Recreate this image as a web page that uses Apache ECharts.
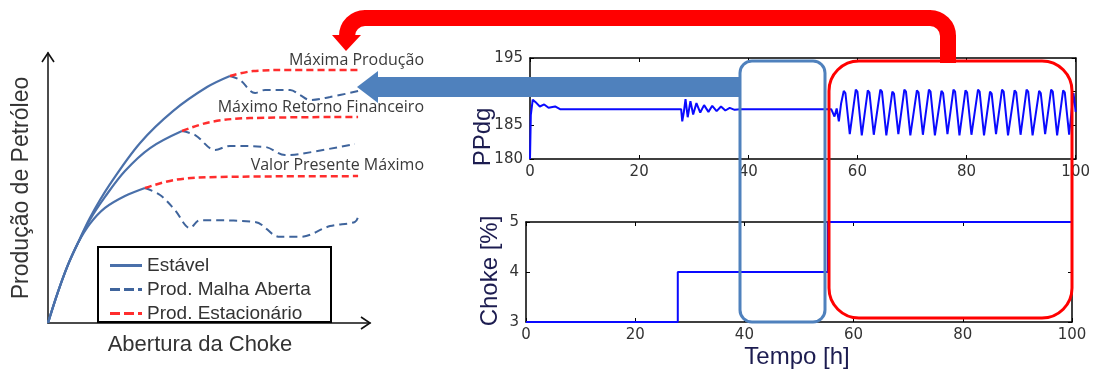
<!DOCTYPE html>
<html>
<head>
<meta charset="utf-8">
<script src="https://cdn.jsdelivr.net/npm/echarts@6/dist/echarts.min.js"></script>
<style>
  html, body { margin: 0; padding: 0; background: #fff; }
  #chart { width: 1093px; height: 372px; }
</style>
</head>
<body>
<div id="chart"></div>
<script>
// ---- Left schematic: oil production vs. choke opening (arbitrary units 0..100) ----
const stableHigh = [[0,0],[3.1,11.5],[6.2,21.5],[9.3,29.6],[13.0,38.9],[19.3,51.5],[28.6,66.7],[38.8,78.5],[49.4,87.4],[56.5,91.5]];
const stableMid  = [[0,0],[3.1,11.5],[6.2,21.5],[9.3,29.6],[13.0,38.2],[17.7,46.7],[23.9,56.3],[31.7,64.8],[41.6,71.1]];
const stableLow  = [[0,0],[3.1,11.5],[6.2,21.5],[9.3,29.6],[13.0,36.7],[17.7,42.6],[23.9,47.0],[30.1,50.0]];

const openLoopHigh = [[56.5,91.5],[59.6,90.0],[64.3,85.2],[67.4,86.3],[75.2,86.3],[78.3,84.4],[81.4,82.6],[87.6,83.7],[96.3,85.9]];
const openLoopMid  = [[41.6,71.1],[45.7,69.6],[51.9,64.1],[56.5,65.6],[67.4,65.2],[73.6,62.2],[78.3,62.6],[95.3,66.3]];
const openLoopLow  = [[30.1,50.0],[34.8,47.4],[39.4,41.9],[44.1,35.2],[47.2,38.1],[64.3,37.4],[72.0,31.9],[78.3,31.9],[87.6,35.9],[95.3,37.4],[96.3,39.3]];

const steadyHigh = [[56.5,91.5],[63.7,93.3],[75.2,93.7],[96.3,93.7]];
const steadyMid  = [[41.6,71.1],[50.3,74.4],[62.7,75.9],[96.3,76.3]];
const steadyLow  = [[30.1,50.0],[39.4,53.0],[53.4,54.1],[96.3,54.4]];

const legendNames = ['Estável', 'Prod. Malha Aberta', 'Prod. Estacionário'];
const operatingPoints = ['Máxima Produção', 'Máximo Retorno Financeiro', 'Valor Presente Máximo'];

// ---- Right plots: simulated time series, Tempo [h] ----
const timeTicks = [0, 20, 40, 60, 80, 100];
const ppdgTicks = [180, 185, 190, 195];
const chokeTicks = [3, 4, 5];

// PPdg: startup transient, step response at ~28 h, then slugging after ~55 h
const ppdgStartup = [[0,180],[0.15,186.5],[0.5,188.8],[1.2,188.3],[1.8,187.8],[2.6,188.1],[3.4,187.6],[4.6,187.8],[5.5,187.4],[27.7,187.4]];
const ppdgStep = [[27.9,185.6],[28.2,187.0],[28.5,188.9],[28.9,186.2],[29.4,188.6],[29.9,186.6],[30.5,188.3],[31.2,186.9],[31.9,188.0],[32.7,187.0],[33.4,187.9],[34.2,187.1],[35.0,187.8],[35.8,187.2],[36.6,187.6],[37.5,187.3],[38.5,187.4],[55.2,187.4]];
const ppdgSlugging = [
  [55.5,187.2],[55.8,186.3],[56.2,187.5],[56.6,185.6],[57.0,188.2],[57.5,190.1],[57.8,189.8],[58.6,183.7],[58.9,183.9],
  [59.7,190.3],[60.0,190.0],[60.8,183.5],[61.1,183.7],
  [61.9,190.2],[62.2,189.9],[63.0,183.6],[63.3,183.8],
  [64.2,190.3],[64.5,190.0],[65.3,183.5],[65.6,183.7],
  [66.4,190.0],[66.7,189.7],[67.5,183.7],[67.8,183.9],
  [68.6,190.3],[68.9,190.0],[69.7,183.5],[70.0,183.7],
  [70.9,190.2],[71.2,189.9],[72.0,183.6],[72.3,183.8],
  [73.1,190.3],[73.4,190.0],[74.2,183.5],[74.5,183.7],
  [75.4,190.1],[75.7,189.8],[76.5,183.7],[76.8,183.9],
  [77.6,190.3],[77.9,190.0],[78.7,183.5],[79.0,183.7],
  [79.8,190.2],[80.1,189.9],[80.9,183.6],[81.2,183.8],
  [82.1,190.3],[82.4,190.0],[83.2,183.5],[83.5,183.7],
  [84.3,190.0],[84.6,189.7],[85.4,183.7],[85.7,183.9],
  [86.5,190.3],[86.8,190.0],[87.6,183.5],[87.9,183.7],
  [88.8,190.2],[89.1,189.9],[89.9,183.6],[90.2,183.8],
  [91.0,190.3],[91.3,190.0],[92.1,183.5],[92.4,183.7],
  [93.3,190.1],[93.6,189.8],[94.4,183.7],[94.7,183.9],
  [95.5,190.3],[95.8,190.0],[96.6,183.5],[96.9,183.7],
  [97.7,190.2],[98.0,189.9],[98.8,183.6],[99.1,183.8],
  [99.6,189.8],[100,187.0]
];
const ppdgSeries = ppdgStartup.concat(ppdgStep, ppdgSlugging);

// Choke opening [%]: steps at ~28 h and ~55 h
const chokeSteps = [[0,3],[27.8,3],[27.8,4],[55.3,4],[55.3,5],[100,5]];

const BLUE_SOLID = '#4a70aa';
const BLUE_DASH = '#3f649c';
const RED_DASH = '#ff2d2d';
const ARROW_BLUE = '#4f81bd';
const SANS = 'Liberation Sans, Arial, sans-serif';
const TICK_FONT = 'DejaVu Sans, sans-serif';

// legend swatches: plain bar for the solid line, broken bar for the dashed ones
const SOLID_ICON = 'path://M0,0H32V3H0Z';
const DASH_ICON = 'path://M0,0H10V3H0Z M14,0H24V3H14Z M28,0H32V3H28Z';

function schematicLine(name, data, color, type, width, z) {
  return {
    name: name, type: 'line', xAxisIndex: 0, yAxisIndex: 0,
    data: data, smooth: 0.35, showSymbol: false, symbol: 'none', silent: true,
    lineStyle: { color: color, width: width, type: type },
    itemStyle: { color: color }, z: z
  };
}

const plotTickLabel = { fontFamily: TICK_FONT, fontSize: 15, color: '#333' };

function timeAxis(gridIndex) {
  return [
    { gridIndex: gridIndex, type: 'value', min: 0, max: 100, interval: 20,
      axisLine: { show: true, onZero: false, lineStyle: { color: '#000', width: 1.5 } },
      axisTick: { show: true, inside: true, length: 4, lineStyle: { color: '#000' } },
      axisLabel: Object.assign({ margin: 6, formatter: v => timeTicks.includes(v) ? String(v) : '' }, plotTickLabel),
      splitLine: { show: false } },
    { gridIndex: gridIndex, type: 'value', position: 'top', min: 0, max: 100, interval: 20,
      axisLine: { show: true, onZero: false, lineStyle: { color: '#000', width: 1.5 } },
      axisTick: { show: true, inside: true, length: 4, lineStyle: { color: '#000' } },
      axisLabel: { show: false }, splitLine: { show: false } }
  ];
}

function valueAxis(gridIndex, min, max, interval, ticks) {
  return [
    { gridIndex: gridIndex, type: 'value', min: min, max: max, interval: interval,
      axisLine: { show: true, onZero: false, lineStyle: { color: '#000', width: 1.5 } },
      axisTick: { show: true, inside: true, length: 4, lineStyle: { color: '#000' } },
      axisLabel: Object.assign({ margin: 7, formatter: v => ticks.includes(v) ? String(v) : '' }, plotTickLabel),
      splitLine: { show: false } },
    { gridIndex: gridIndex, type: 'value', position: 'right', min: min, max: max, interval: interval,
      axisLine: { show: true, onZero: false, lineStyle: { color: '#000', width: 1.5 } },
      axisTick: { show: true, inside: true, length: 4, lineStyle: { color: '#000' } },
      axisLabel: { show: false }, splitLine: { show: false } }
  ];
}

const RED_ARROW = { stroke: '#ff0000', lineWidth: 16, fill: null };

const chart = echarts.init(document.getElementById('chart'), null, { renderer: 'canvas' });

const option = {
  animation: false,
  backgroundColor: '#fff',
  grid: [
    { left: 48, top: 53, width: 322, height: 270 },
    { left: 530, top: 58, width: 549, height: 101 },
    { left: 526, top: 222, width: 546, height: 100 }
  ],
  xAxis: [
    { gridIndex: 0, type: 'value', min: 0, max: 100,
      axisLine: { show: true, onZero: false, lineStyle: { color: '#111', width: 1.5 } },
      axisTick: { show: false }, axisLabel: { show: false }, splitLine: { show: false } }
  ].concat(timeAxis(1), timeAxis(2)),
  yAxis: [
    { gridIndex: 0, type: 'value', min: 0, max: 100,
      axisLine: { show: true, onZero: false, lineStyle: { color: '#111', width: 1.5 } },
      axisTick: { show: false }, axisLabel: { show: false }, splitLine: { show: false } }
  ].concat(valueAxis(1, 180, 195, 5, ppdgTicks), valueAxis(2, 3, 5, 1, chokeTicks)),
  legend: {
    data: [
      { name: legendNames[0], icon: SOLID_ICON },
      { name: legendNames[1], icon: DASH_ICON },
      { name: legendNames[2], icon: DASH_ICON }
    ],
    orient: 'vertical', left: 110, top: 256,
    itemWidth: 32, itemHeight: 3, itemGap: 5, padding: 0, selectedMode: false,
    textStyle: { fontFamily: SANS, fontSize: 19, lineHeight: 18, color: '#333' }
  },
  series: [
    schematicLine('Estável', stableHigh, BLUE_SOLID, 'solid', 2.2, 3),
    schematicLine('Estável', stableMid, BLUE_SOLID, 'solid', 2.2, 3),
    schematicLine('Estável', stableLow, BLUE_SOLID, 'solid', 2.2, 3),
    schematicLine('Prod. Malha Aberta', openLoopHigh, BLUE_DASH, [8, 5], 2, 3),
    schematicLine('Prod. Malha Aberta', openLoopMid, BLUE_DASH, [8, 5], 2, 3),
    schematicLine('Prod. Malha Aberta', openLoopLow, BLUE_DASH, [8, 5], 2, 3),
    schematicLine('Prod. Estacionário', steadyHigh, RED_DASH, [7, 4], 2.5, 4),
    schematicLine('Prod. Estacionário', steadyMid, RED_DASH, [7, 4], 2.5, 4),
    schematicLine('Prod. Estacionário', steadyLow, RED_DASH, [7, 4], 2.5, 4),
    { name: 'PPdg', type: 'line', xAxisIndex: 1, yAxisIndex: 1, data: ppdgSeries,
      showSymbol: false, symbol: 'none', clip: false, silent: true,
      lineStyle: { color: '#0a0aff', width: 2 }, z: 5 },
    { name: 'Choke', type: 'line', xAxisIndex: 3, yAxisIndex: 3, data: chokeSteps,
      showSymbol: false, symbol: 'none', clip: false, silent: true,
      lineStyle: { color: '#0a0aff', width: 2 }, z: 5 }
  ],
  graphic: [
    // axis arrowheads of the schematic
    { type: 'polyline', z: 50, shape: { points: [[42, 62], [48, 53], [54, 62]] }, style: { stroke: '#111', lineWidth: 1.6, fill: null } },
    { type: 'polyline', z: 50, shape: { points: [[361, 317], [370, 323], [361, 329]] }, style: { stroke: '#111', lineWidth: 1.6, fill: null } },
    // legend frame
    { type: 'rect', z: 50, shape: { x: 98, y: 247, width: 233, height: 75 }, style: { stroke: '#000', lineWidth: 2, fill: null } },
    // axis titles of the schematic
    { type: 'text', z: 50, x: 22, y: 188, rotation: Math.PI / 2,
      style: { text: 'Produção de Petróleo', font: '23px ' + SANS, fill: '#333', textAlign: 'center', textVerticalAlign: 'middle' } },
    { type: 'text', z: 50, x: 200, y: 345,
      style: { text: 'Abertura da Choke', font: '22px ' + SANS, fill: '#333', textAlign: 'center', textVerticalAlign: 'middle' } },
    // operating point labels
    { type: 'text', z: 50, x: 424, y: 60,
      style: { text: operatingPoints[0], font: '16px Open Sans, sans-serif', fill: '#3a3a3a', textAlign: 'right', textVerticalAlign: 'middle' } },
    { type: 'text', z: 50, x: 424, y: 107,
      style: { text: operatingPoints[1], font: '16px Open Sans, sans-serif', fill: '#3a3a3a', textAlign: 'right', textVerticalAlign: 'middle' } },
    { type: 'text', z: 50, x: 424, y: 165,
      style: { text: operatingPoints[2], font: '16px Open Sans, sans-serif', fill: '#3a3a3a', textAlign: 'right', textVerticalAlign: 'middle' } },
    // axis titles of the time plots
    { type: 'text', z: 50, x: 483, y: 137, rotation: Math.PI / 2,
      style: { text: 'PPdg', font: '24px ' + SANS, fill: '#1c1c50', textAlign: 'center', textVerticalAlign: 'middle' } },
    { type: 'text', z: 50, x: 490, y: 271, rotation: Math.PI / 2,
      style: { text: 'Choke [%]', font: '24px ' + SANS, fill: '#1c1c50', textAlign: 'center', textVerticalAlign: 'middle' } },
    { type: 'text', z: 50, x: 797, y: 357,
      style: { text: 'Tempo [h]', font: '24px ' + SANS, fill: '#1c1c50', textAlign: 'center', textVerticalAlign: 'middle' } },
    // highlight frames over the time plots
    { type: 'rect', z: 60, shape: { x: 740, y: 61, width: 85, height: 261, r: 12 }, style: { stroke: ARROW_BLUE, lineWidth: 3, fill: null } },
    { type: 'rect', z: 60, shape: { x: 829, y: 61, width: 243, height: 257, r: 30 }, style: { stroke: '#ff0000', lineWidth: 3, fill: null } },
    // blue arrow: stable window -> schematic
    { type: 'polygon', z: 70, shape: { points: [[740, 77], [378, 77], [378, 71], [357, 87], [378, 103], [378, 97], [740, 97]] },
      style: { fill: ARROW_BLUE, stroke: null } },
    // red arrow: slugging window -> maximum production
    { type: 'line', z: 70, shape: { x1: 948, y1: 63, x2: 948, y2: 35 }, style: RED_ARROW },
    { type: 'arc', z: 70, shape: { cx: 930, cy: 36, r: 18, startAngle: -Math.PI / 2, endAngle: 0, clockwise: true }, style: RED_ARROW },
    { type: 'line', z: 70, shape: { x1: 931, y1: 18, x2: 364, y2: 18 }, style: RED_ARROW },
    { type: 'arc', z: 70, shape: { cx: 365, cy: 36, r: 18, startAngle: Math.PI, endAngle: Math.PI * 1.5, clockwise: true }, style: RED_ARROW },
    { type: 'line', z: 70, shape: { x1: 347, y1: 35, x2: 347, y2: 38 }, style: RED_ARROW },
    { type: 'polygon', z: 70, shape: { points: [[332, 35], [361, 35], [346, 51]] }, style: { fill: '#ff0000', stroke: null } }
  ]
};

chart.setOption(option);
</script>
</body>
</html>
